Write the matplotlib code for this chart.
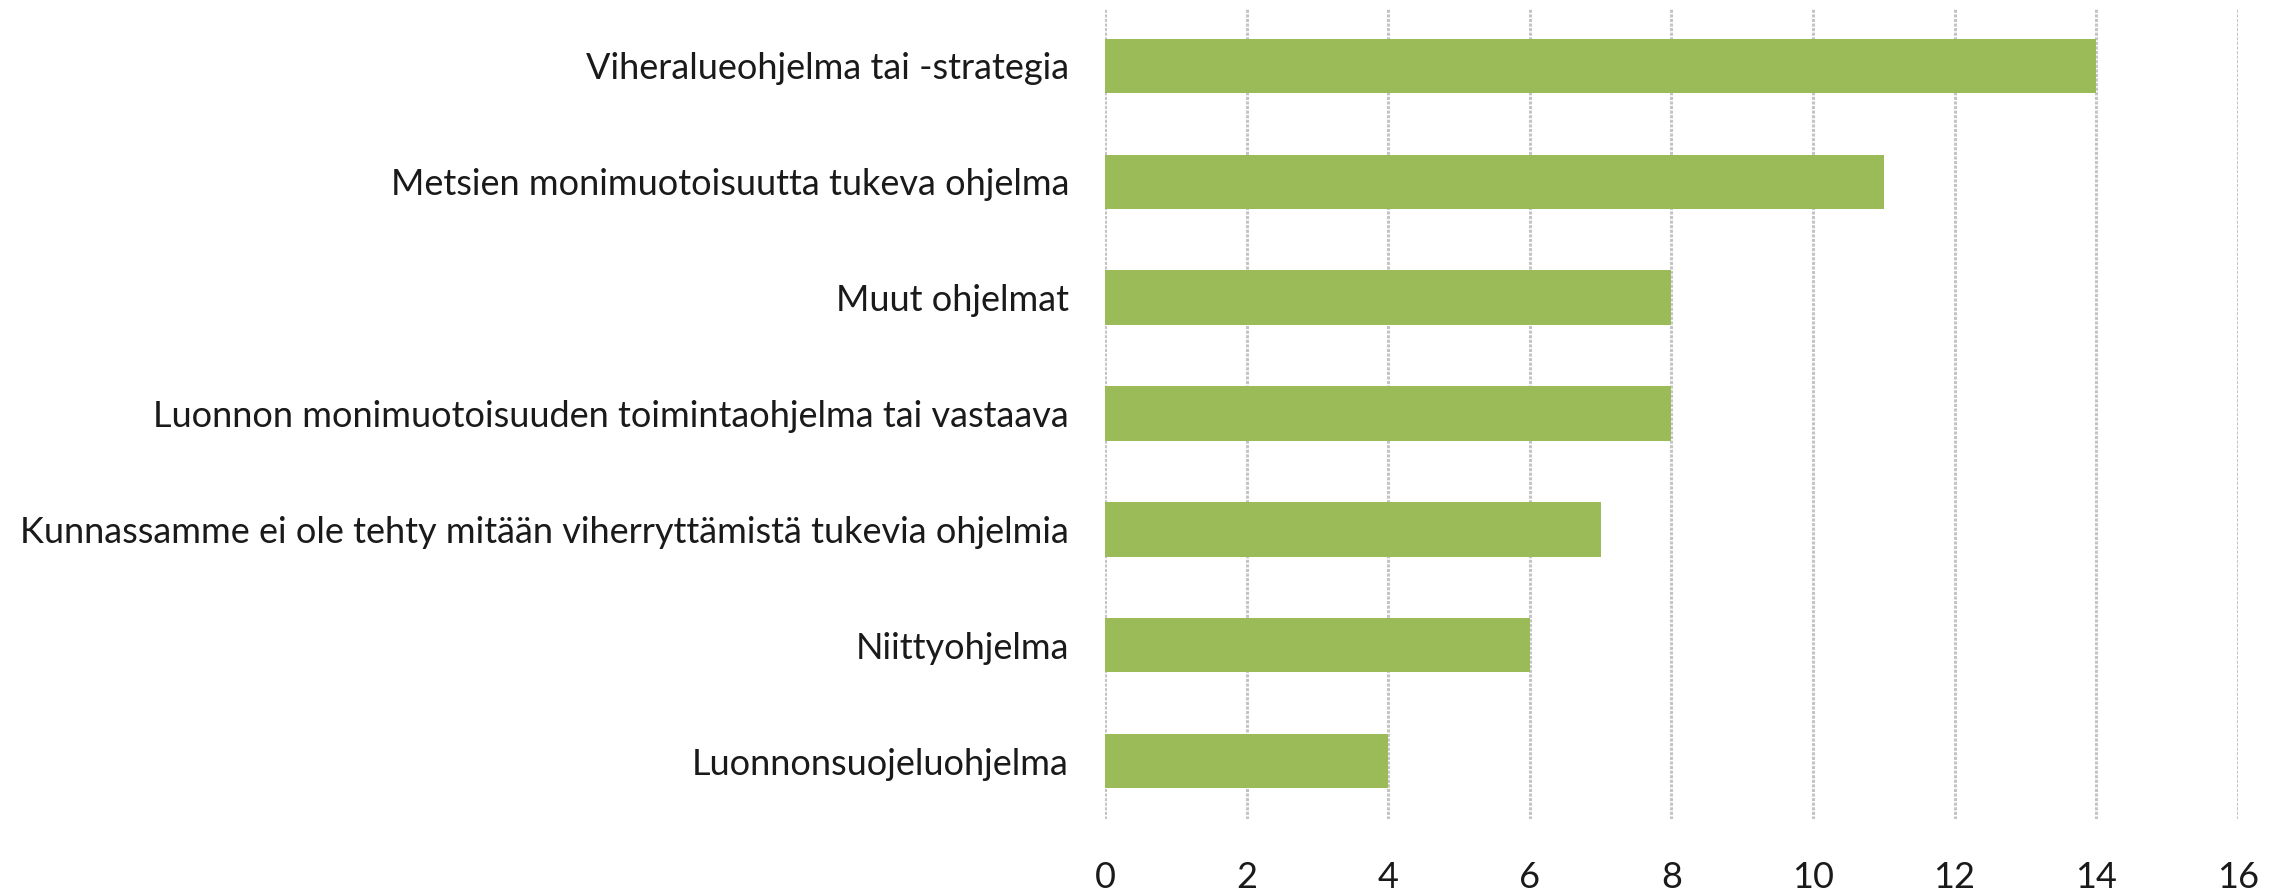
import matplotlib.pyplot as plt

categories = ['Luonnonsuojeluohjelma',
              'Niittyohjelma',
              'Kunnassamme ei ole tehty mitään viherryttämistä tukevia ohjelmia',
              'Luonnon monimuotoisuuden toimintaohjelma tai vastaava',
              'Muut ohjelmat',
              'Metsien monimuotoisuutta tukeva ohjelma',
              'Viheralueohjelma tai -strategia']
values = [4, 6, 7, 8, 8, 11, 14]
xticks = [0, 2, 4, 6, 8, 10, 12, 14, 16]

plt.rcParams['font.family'] = ['Lato', 'DejaVu Sans']

fig = plt.figure(figsize=(22.74, 8.96), dpi=100)
ax = fig.add_axes([0.486, 0.086, 0.498, 0.905])

ax.barh(range(len(categories)), values, height=0.47, color='#9BBB59', zorder=3)
ax.set_ylim(-0.5, len(categories) - 0.5)
ax.set_xlim(0, 16)
ax.set_xticks(xticks)
ax.set_yticks(range(len(categories)))
ax.set_yticklabels(categories)

ax.grid(axis='x', color='#C4C4C4', linewidth=2.2, linestyle=(0, (1, 0.5)), zorder=0)
for s in ax.spines.values():
    s.set_visible(False)
ax.tick_params(axis='both', length=0, colors='#1a1a1a', labelsize=26)
ax.tick_params(axis='y', pad=26)
ax.tick_params(axis='x', pad=30)

fig.savefig('out.png', dpi=100, facecolor='white')
